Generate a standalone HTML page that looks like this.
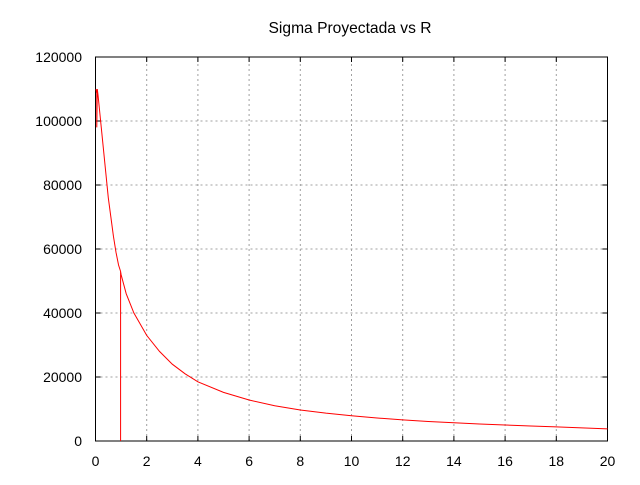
<!DOCTYPE html>
<html><head><meta charset="utf-8"><style>
body{margin:0;background:#fff}
svg text{font-family:"Liberation Sans",sans-serif;font-size:14px;fill:#000}
</style></head><body>
<svg id="chart" width="640" height="480" xmlns="http://www.w3.org/2000/svg">
<rect width="640" height="480" fill="#fff"/>
<text x="350" y="33" text-anchor="middle" style="font-size:15.6px">Sigma Proyectada vs R</text>
<g id="grid"></g>
<g id="axes"></g>
<g id="series"></g>
</svg>
<script>
const xTicks=[0,2,4,6,8,10,12,14,16,18,20];
const yTicks=[0,20000,40000,60000,80000,100000,120000];
const rValues=[0.02,0.04,0.05,0.05,0.07,0.1,0.2,0.3,0.4,0.5,0.6,0.7,0.8,0.9,0.98,0.98,0.98,0.98,1.0,1.2,1.5,2,2.5,3,3.5,4,5,6,7,8,9,10,11,12,13,14,15,16,17,18,19,20];
const sigmaValues=[110000,109000,109000,98000,110000,108000,100000,92000,84000,76000,70000,64000,59000,55000,53000,0,26000,53000,52000,46000,40000,33000,28000,24000,21000,18500,15200,12800,11000,9700,8700,7900,7200,6600,6100,5700,5300,5000,4700,4400,4100,3800];
const X0=95.5,X1=607.5,Y0=441,Y1=57;
const xs=v=>X0+(v-0)/(20-0)*(X1-X0);
const ys=v=>Y0-(v/120000)*(Y0-Y1);
const NS='http://www.w3.org/2000/svg';
function mk(t,a,p){const e=document.createElementNS(NS,t);for(const k in a)e.setAttribute(k,a[k]);p.appendChild(e);return e;}
const grid=document.getElementById('grid'),axes=document.getElementById('axes'),series=document.getElementById('series');
xTicks.forEach(t=>{const x=xs(t);
 if(t>0&&t<20){const g=mk('line',{x1:x,x2:x,y1:Y0,y2:Y1,stroke:'#a0a0a0','stroke-dasharray':'2,3'},grid);}
 const tk=mk('line',{x1:x,x2:x,y1:Y0,y2:Y0-5,stroke:'#000'},axes);
 const tk2=mk('line',{x1:x,x2:x,y1:Y1,y2:Y1+5,stroke:'#000'},axes);
 const l=mk('text',{x:x,y:466,'text-anchor':'middle'},axes);l.textContent=t;});
yTicks.forEach(t=>{const y=ys(t);
 if(t>0&&t<120000){const g=mk('line',{x1:X0,x2:X1,y1:y,y2:y,stroke:'#a0a0a0','stroke-dasharray':'2,3'},grid);}
 const tk=mk('line',{x1:X0,x2:X0+5,y1:y,y2:y,stroke:'#000'},axes);
 const tk2=mk('line',{x1:X1,x2:X1-5,y1:y,y2:y,stroke:'#000'},axes);
 const l=mk('text',{x:82,y:y+5,'text-anchor':'end'},axes);l.textContent=t;});
const fr=mk('rect',{x:X0,y:Y1,width:X1-X0,height:Y0-Y1,fill:'none',stroke:'#000'},axes);

const pts=rValues.map((r,i)=>xs(r).toFixed(2)+','+ys(sigmaValues[i]).toFixed(2)).join(' ');
const pl=mk('polyline',{points:pts,fill:'none',stroke:'#f00','stroke-width':1},series);


</script>
</body></html>
